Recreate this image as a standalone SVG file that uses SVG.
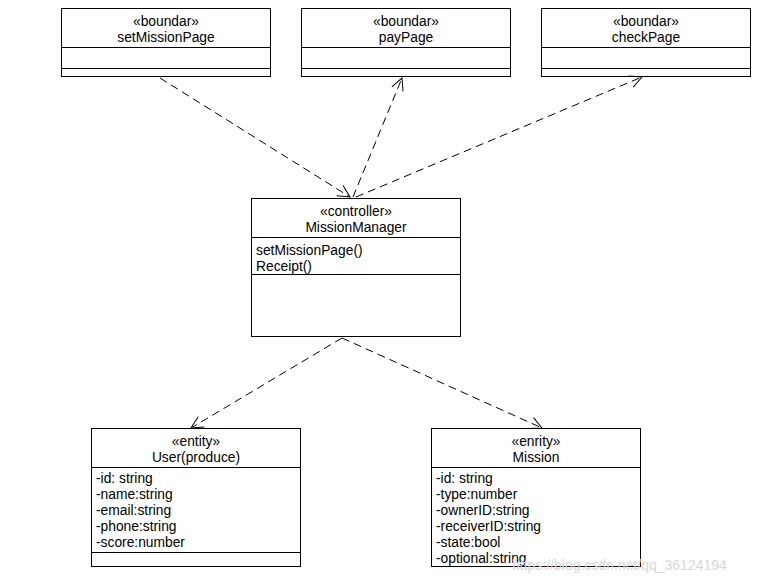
<svg xmlns="http://www.w3.org/2000/svg" width="766" height="584" viewBox="0 0 766 584">
<style>
.box{fill:#fff;stroke:#000;stroke-width:1}
.sep{stroke:#000;stroke-width:1}
.t{font-family:"Liberation Sans",Arial,sans-serif;font-size:13.8px;fill:#000}
.c{text-anchor:middle}
.dep{fill:none;stroke:#000;stroke-width:1;stroke-dasharray:8,5}
.wm{font-family:"Liberation Sans",Arial,sans-serif;font-size:14px;fill:#d8d8d8}
</style>
<defs>
<marker id="open" viewBox="-13 -7 14 14" refX="0" refY="0" markerWidth="14" markerHeight="14" markerUnits="userSpaceOnUse" orient="auto">
<path d="M-12,-6 L0,0 L-12,6" fill="none" stroke="#000" stroke-width="1"/>
</marker>
</defs>
<rect width="766" height="584" fill="#fff"/>
<g id="setMissionPage">
<rect class="box" x="61.5" y="8.5" width="209" height="68"/>
<line class="sep" x1="61.5" y1="47.5" x2="270.5" y2="47.5"/>
<line class="sep" x1="61.5" y1="68.5" x2="270.5" y2="68.5"/>
<text class="t c" x="166" y="26">«boundar»</text>
<text class="t c" x="166" y="42">setMissionPage</text>
</g>
<g id="payPage">
<rect class="box" x="301.5" y="8.5" width="209" height="68"/>
<line class="sep" x1="301.5" y1="47.5" x2="510.5" y2="47.5"/>
<line class="sep" x1="301.5" y1="68.5" x2="510.5" y2="68.5"/>
<text class="t c" x="406" y="26">«boundar»</text>
<text class="t c" x="406" y="42">payPage</text>
</g>
<g id="checkPage">
<rect class="box" x="541.5" y="8.5" width="209" height="68"/>
<line class="sep" x1="541.5" y1="47.5" x2="750.5" y2="47.5"/>
<line class="sep" x1="541.5" y1="68.5" x2="750.5" y2="68.5"/>
<text class="t c" x="646" y="26">«boundar»</text>
<text class="t c" x="646" y="42">checkPage</text>
</g>
<g id="MissionManager">
<rect class="box" x="251.5" y="198.5" width="209" height="138"/>
<line class="sep" x1="251.5" y1="237.5" x2="460.5" y2="237.5"/>
<line class="sep" x1="251.5" y1="274.5" x2="460.5" y2="274.5"/>
<text class="t c" x="356" y="216">«controller»</text>
<text class="t c" x="356" y="232">MissionManager</text>
<text class="t" x="256" y="255">setMissionPage()</text>
<text class="t" x="256" y="271">Receipt()</text>
</g>
<g id="User">
<rect class="box" x="91.5" y="428.5" width="209" height="138"/>
<line class="sep" x1="91.5" y1="467.5" x2="300.5" y2="467.5"/>
<line class="sep" x1="91.5" y1="552.5" x2="300.5" y2="552.5"/>
<text class="t c" x="196" y="446">«entity»</text>
<text class="t c" x="196" y="462">User(produce)</text>
<text class="t" x="96" y="483">-id: string</text>
<text class="t" x="96" y="499">-name:string</text>
<text class="t" x="96" y="515">-email:string</text>
<text class="t" x="96" y="531">-phone:string</text>
<text class="t" x="96" y="547">-score:number</text>
</g>
<g id="Mission">
<rect class="box" x="431.5" y="428.5" width="209" height="138"/>
<line class="sep" x1="431.5" y1="467.5" x2="640.5" y2="467.5"/>
<text class="t c" x="536" y="446">«enrity»</text>
<text class="t c" x="536" y="462">Mission</text>
<text class="t" x="436" y="483">-id: string</text>
<text class="t" x="436" y="499">-type:number</text>
<text class="t" x="436" y="515">-ownerID:string</text>
<text class="t" x="436" y="531">-receiverID:string</text>
<text class="t" x="436" y="547">-state:bool</text>
<text class="t" x="436" y="563">-optional:string</text>
</g>
<g id="connectors">
<line class="dep" x1="160" y1="78" x2="350" y2="197" marker-end="url(#open)"/>
<line class="dep" x1="353" y1="197" x2="402" y2="78" marker-end="url(#open)"/>
<line class="dep" x1="356" y1="197" x2="642" y2="77" marker-end="url(#open)"/>
<line class="dep" x1="342" y1="338" x2="191" y2="428" marker-end="url(#open)"/>
<line class="dep" x1="342" y1="338" x2="542" y2="428" marker-end="url(#open)"/>
</g>
<text class="wm" x="512" y="570">https://blog.csdn.net/qq_36124194</text>
</svg>
